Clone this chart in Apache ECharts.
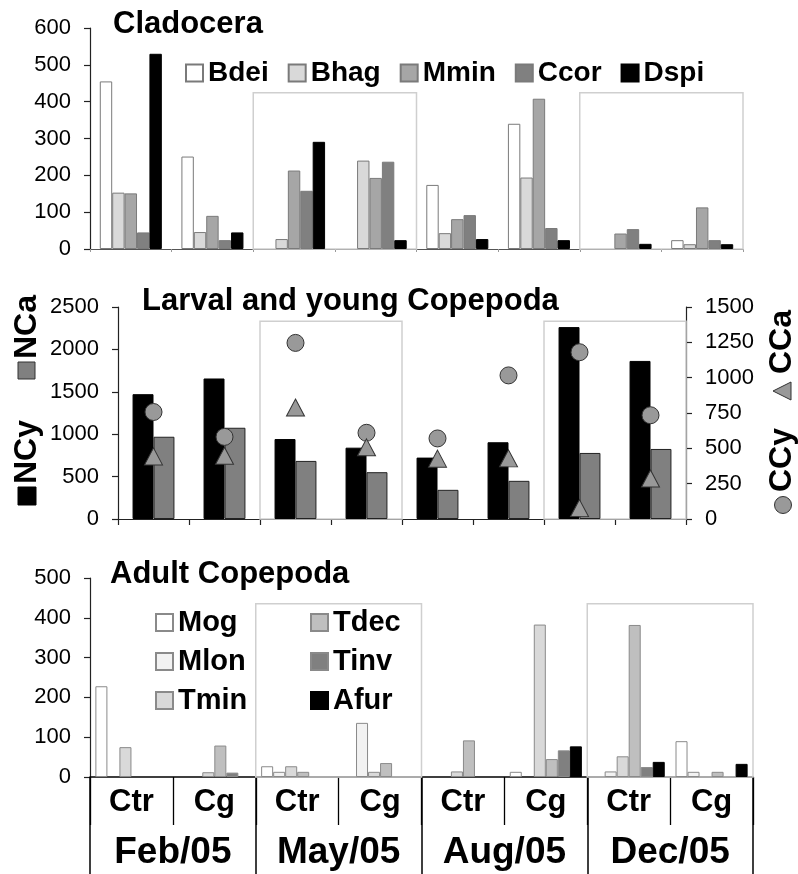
<!DOCTYPE html>
<html><head><meta charset="utf-8">
<script src="https://cdn.jsdelivr.net/npm/echarts@6/dist/echarts.min.js"></script>
<style>html,body{margin:0;padding:0;background:#fff}#c{width:798px;height:874px}</style>
</head><body><div id="c"></div>
<script>
// ---------- data ----------
const categories = ['Feb Ctr','Feb Cg','May Ctr','May Cg','Aug Ctr','Aug Cg','Dec Ctr','Dec Cg'];
const treatLabels = ['Ctr','Cg','Ctr','Cg','Ctr','Cg','Ctr','Cg'];
const monthLabels = ['Feb/05','May/05','Aug/05','Dec/05'];

// Cladocera
const cladoNames = ['Bdei','Bhag','Mmin','Ccor','Dspi'];
const bdei = [455, 251, 0, 0, 174, 340, 0, 24];
const bhag = [153, 46, 27, 240, 43, 194, 0, 13];
const mmin = [151, 90, 213, 193, 81, 408, 42, 113];
const ccor = [45, 24, 158, 237, 92, 57, 54, 24];
const dspi = [530, 45, 291, 24, 27, 24, 14, 13];
const cladoTicks = [0, 100, 200, 300, 400, 500, 600];

// Larval and young Copepoda
const ncy = [1472, 1657, 943, 841, 724, 905, 2263, 1864];
const nca = [970, 1076, 685, 552, 344, 450, 779, 826];
const ccy = [757, 581, 1246, 610, 570, 1016, 1180, 734];
const cca = [443, 447, 789, 507, 427, 429, 77, 286];
const leftTicks = [0, 500, 1000, 1500, 2000, 2500];
const rightTicks = [0, 250, 500, 750, 1000, 1250, 1500];

// Adult Copepoda
const adultNames = ['Mog','Mlon','Tmin','Tdec','Tinv','Afur'];
const mog  = [228, 0, 27, 0, 0, 13, 0, 90];
const mlon = [0, 0, 13, 136, 0, 0, 14, 13];
const tmin = [75, 12, 27, 13, 14, 383, 52, 0];
const tdec = [0, 79, 13, 35, 92, 45, 382, 13];
const tinv = [0, 11, 0, 0, 0, 67, 25, 0];
const afur = [0, 0, 0, 0, 0, 77, 38, 33];
const adultTicks = [0, 100, 200, 300, 400, 500];

// ---------- styling ----------
const FF = 'Liberation Sans, Arial, sans-serif';
const cladoData = [bdei, bhag, mmin, ccor, dspi];
const cladoColors = ['#ffffff', '#d9d9d9', '#a6a6a6', '#808080', '#000000'];
const adultData = [mog, mlon, tmin, tdec, tinv, afur];
const adultColors = ['#ffffff', '#f2f2f2', '#d9d9d9', '#bfbfbf', '#808080', '#000000'];
const noZero = arr => arr.map(v => (v === 0 ? '-' : v));

function yAx(grid, ticks, pos) {
  return {
    type: 'value', gridIndex: grid, position: pos || 'left',
    min: ticks[0], max: ticks[ticks.length - 1], interval: ticks[1] - ticks[0],
    axisLine: {show: true, lineStyle: {color: '#222', width: 1.2}},
    axisTick: {show: true, length: 6, lineStyle: {color: '#222', width: 1.2}},
    splitLine: {show: false},
    axisLabel: {fontFamily: FF, fontSize: 22, color: '#000', margin: 19, formatter: v => String(v)}
  };
}

const series = [];
cladoNames.forEach((n, i) => series.push({
  name: n, type: 'bar', xAxisIndex: 0, yAxisIndex: 0, data: noZero(cladoData[i]),
  barGap: '0%', barCategoryGap: '24%', z: 3,
  itemStyle: {color: cladoColors[i], borderColor: i === 4 ? '#000' : '#7a7a7a', borderWidth: 1}
}));
series.push({name: 'NCy', type: 'bar', xAxisIndex: 1, yAxisIndex: 1, data: ncy,
  barGap: '0%', barCategoryGap: '41%', z: 3,
  itemStyle: {color: '#000', borderColor: '#000', borderWidth: 1}});
series.push({name: 'NCa', type: 'bar', xAxisIndex: 1, yAxisIndex: 1, data: nca,
  barGap: '0%', barCategoryGap: '41%', z: 3,
  itemStyle: {color: '#808080', borderColor: '#222', borderWidth: 1}});
series.push({name: 'CCy', type: 'scatter', xAxisIndex: 1, yAxisIndex: 2, data: ccy,
  symbol: 'circle', symbolSize: 17, z: 5,
  itemStyle: {color: '#999999', borderColor: '#333', borderWidth: 1, opacity: 1}});
series.push({name: 'CCa', type: 'scatter', xAxisIndex: 1, yAxisIndex: 2, data: cca,
  symbol: 'triangle', symbolSize: [18, 17], z: 5,
  itemStyle: {color: '#999999', borderColor: '#333', borderWidth: 1, opacity: 1}});
adultNames.forEach((n, i) => series.push({
  name: n, type: 'bar', xAxisIndex: 2, yAxisIndex: 3, data: noZero(adultData[i]),
  barGap: '0%', barCategoryGap: '13%', z: 3,
  itemStyle: {color: adultColors[i], borderColor: i === 5 ? '#000' : '#8a8a8a', borderWidth: 1}
}));

const legendText = {fontFamily: FF, fontSize: 28, fontWeight: 'bold', color: '#000', lineHeight: 28};

const option = {
  animation: false,
  backgroundColor: '#fff',
  title: [
    {text: 'Cladocera', left: 113, top: 9, padding: 0,
     textStyle: {fontFamily: FF, fontSize: 31, fontWeight: 'bold', color: '#000'}},
    {text: 'Larval and young Copepoda', left: 142, top: 286, padding: 0,
     textStyle: {fontFamily: FF, fontSize: 31, fontWeight: 'bold', color: '#000'}},
    {text: 'Adult Copepoda', left: 110, top: 559, padding: 0,
     textStyle: {fontFamily: FF, fontSize: 31, fontWeight: 'bold', color: '#000'}}
  ],
  legend: [
    {data: cladoNames, left: 185, top: 59, orient: 'horizontal', itemWidth: 17, itemHeight: 17,
     itemGap: 19, icon: 'rect', selectedMode: false, padding: 0, textStyle: legendText},
    {data: adultNames.slice(0, 3), left: 155, top: 608, orient: 'vertical', itemWidth: 17, itemHeight: 17,
     itemGap: 10, icon: 'rect', selectedMode: false, padding: 0,
     textStyle: Object.assign({}, legendText, {fontSize: 29, lineHeight: 29})},
    {data: adultNames.slice(3), left: 310, top: 608, orient: 'vertical', itemWidth: 17, itemHeight: 17,
     itemGap: 10, icon: 'rect', selectedMode: false, padding: 0,
     textStyle: Object.assign({}, legendText, {fontSize: 29, lineHeight: 29})}
  ],
  grid: [
    {left: 90, right: 55, top: 28, bottom: 625},
    {left: 118, right: 112, top: 307, bottom: 355},
    {left: 90, right: 45, top: 578, bottom: 97}
  ],
  xAxis: [
    {type: 'category', gridIndex: 0, data: categories,
     axisLine: {lineStyle: {color: '#555', width: 1.2}},
     axisTick: {show: true, length: 3, lineStyle: {color: '#999'}},
     axisLabel: {show: false}},
    {type: 'category', gridIndex: 1, data: categories,
     axisLine: {lineStyle: {color: '#222', width: 1.2}},
     axisTick: {show: true, length: 6, lineStyle: {color: '#222', width: 1.2}},
     axisLabel: {show: false}},
    {type: 'category', gridIndex: 2, data: categories,
     axisLine: {lineStyle: {color: '#000', width: 1.5}},
     axisTick: {show: true, length: 48, interval: 0, lineStyle: {color: '#000', width: 1.3}},
     axisLabel: {show: true, interval: 0, margin: 10, formatter: (v, i) => treatLabels[i],
       fontFamily: FF, fontSize: 31, fontWeight: 'bold', color: '#000'}},
    {type: 'category', gridIndex: 2, data: monthLabels, position: 'bottom',
     axisLine: {show: false},
     axisTick: {show: true, length: 100, interval: 0, lineStyle: {color: '#000', width: 1.5}},
     axisLabel: {show: true, interval: 0, margin: 57,
       fontFamily: FF, fontSize: 37, fontWeight: 'bold', color: '#000'}}
  ],
  yAxis: [
    yAx(0, cladoTicks),
    yAx(1, leftTicks),
    yAx(1, rightTicks, 'right'),
    yAx(2, adultTicks)
  ],
  series: series
};

const chart = echarts.init(document.getElementById('c'), null, {renderer: 'canvas'});
chart.setOption(option);

// boxes around May and Dec groups (band edges via axis scales)
function boxRect(xi, yi, i0, i1, topVal) {
  const c0 = chart.convertToPixel({xAxisIndex: xi}, i0);
  const c1 = chart.convertToPixel({xAxisIndex: xi}, i1);
  const bw = c1 - c0;
  const x0 = c0 - bw / 2, x1 = c1 + bw / 2;
  const yT = chart.convertToPixel({yAxisIndex: yi}, topVal);
  const yB = chart.convertToPixel({yAxisIndex: yi}, 0);
  return {type: 'rect', z: 1, silent: true,
    shape: {x: x0, y: yT, width: x1 - x0, height: yB - yT},
    style: {fill: 'none', stroke: '#cfcfcf', lineWidth: 1.5}};
}
const graphics = [];
[[0, 0, 424], [1, 1, 2332], [2, 3, 435]].forEach(([xi, yi, t]) => {
  graphics.push(boxRect(xi, yi, 2, 3, t));
  graphics.push(boxRect(xi, yi, 6, 7, t));
});

const nameFont = {fontFamily: FF, fontSize: 32, fontWeight: 'bold', fill: '#000'};
// Left axis name: ■ NCy  ■ NCa (reads bottom to top)
graphics.push({type: 'group', x: 27, y: 397, rotation: Math.PI / 2, silent: true, children: [
  {type: 'rect', shape: {x: -108, y: -9, width: 18, height: 18}, style: {fill: '#000', stroke: '#000'}},
  {type: 'text', x: -87, y: 0, style: Object.assign({text: 'NCy', align: 'left', verticalAlign: 'middle'}, nameFont)},
  {type: 'rect', shape: {x: 18, y: -9, width: 17, height: 17}, style: {fill: '#808080', stroke: '#333'}},
  {type: 'text', x: 38, y: 0, style: Object.assign({text: 'NCa', align: 'left', verticalAlign: 'middle'}, nameFont)}
]});
// Right axis name: ● CCy  ▲ CCa
graphics.push({type: 'group', x: 782, y: 408, rotation: Math.PI / 2, silent: true, children: [
  {type: 'circle', shape: {cx: -97, cy: 1, r: 8.5}, style: {fill: '#999', stroke: '#333'}},
  {type: 'text', x: -84, y: 0, style: Object.assign({text: 'CCy', align: 'left', verticalAlign: 'middle'}, nameFont)},
  {type: 'polygon', shape: {points: [[8, 9], [17, -9], [26, 9]]}, style: {fill: '#999', stroke: '#333'}},
  {type: 'text', x: 34, y: 0, style: Object.assign({text: 'CCa', align: 'left', verticalAlign: 'middle'}, nameFont)}
]});
chart.setOption({graphic: graphics});
</script>
</body></html>
